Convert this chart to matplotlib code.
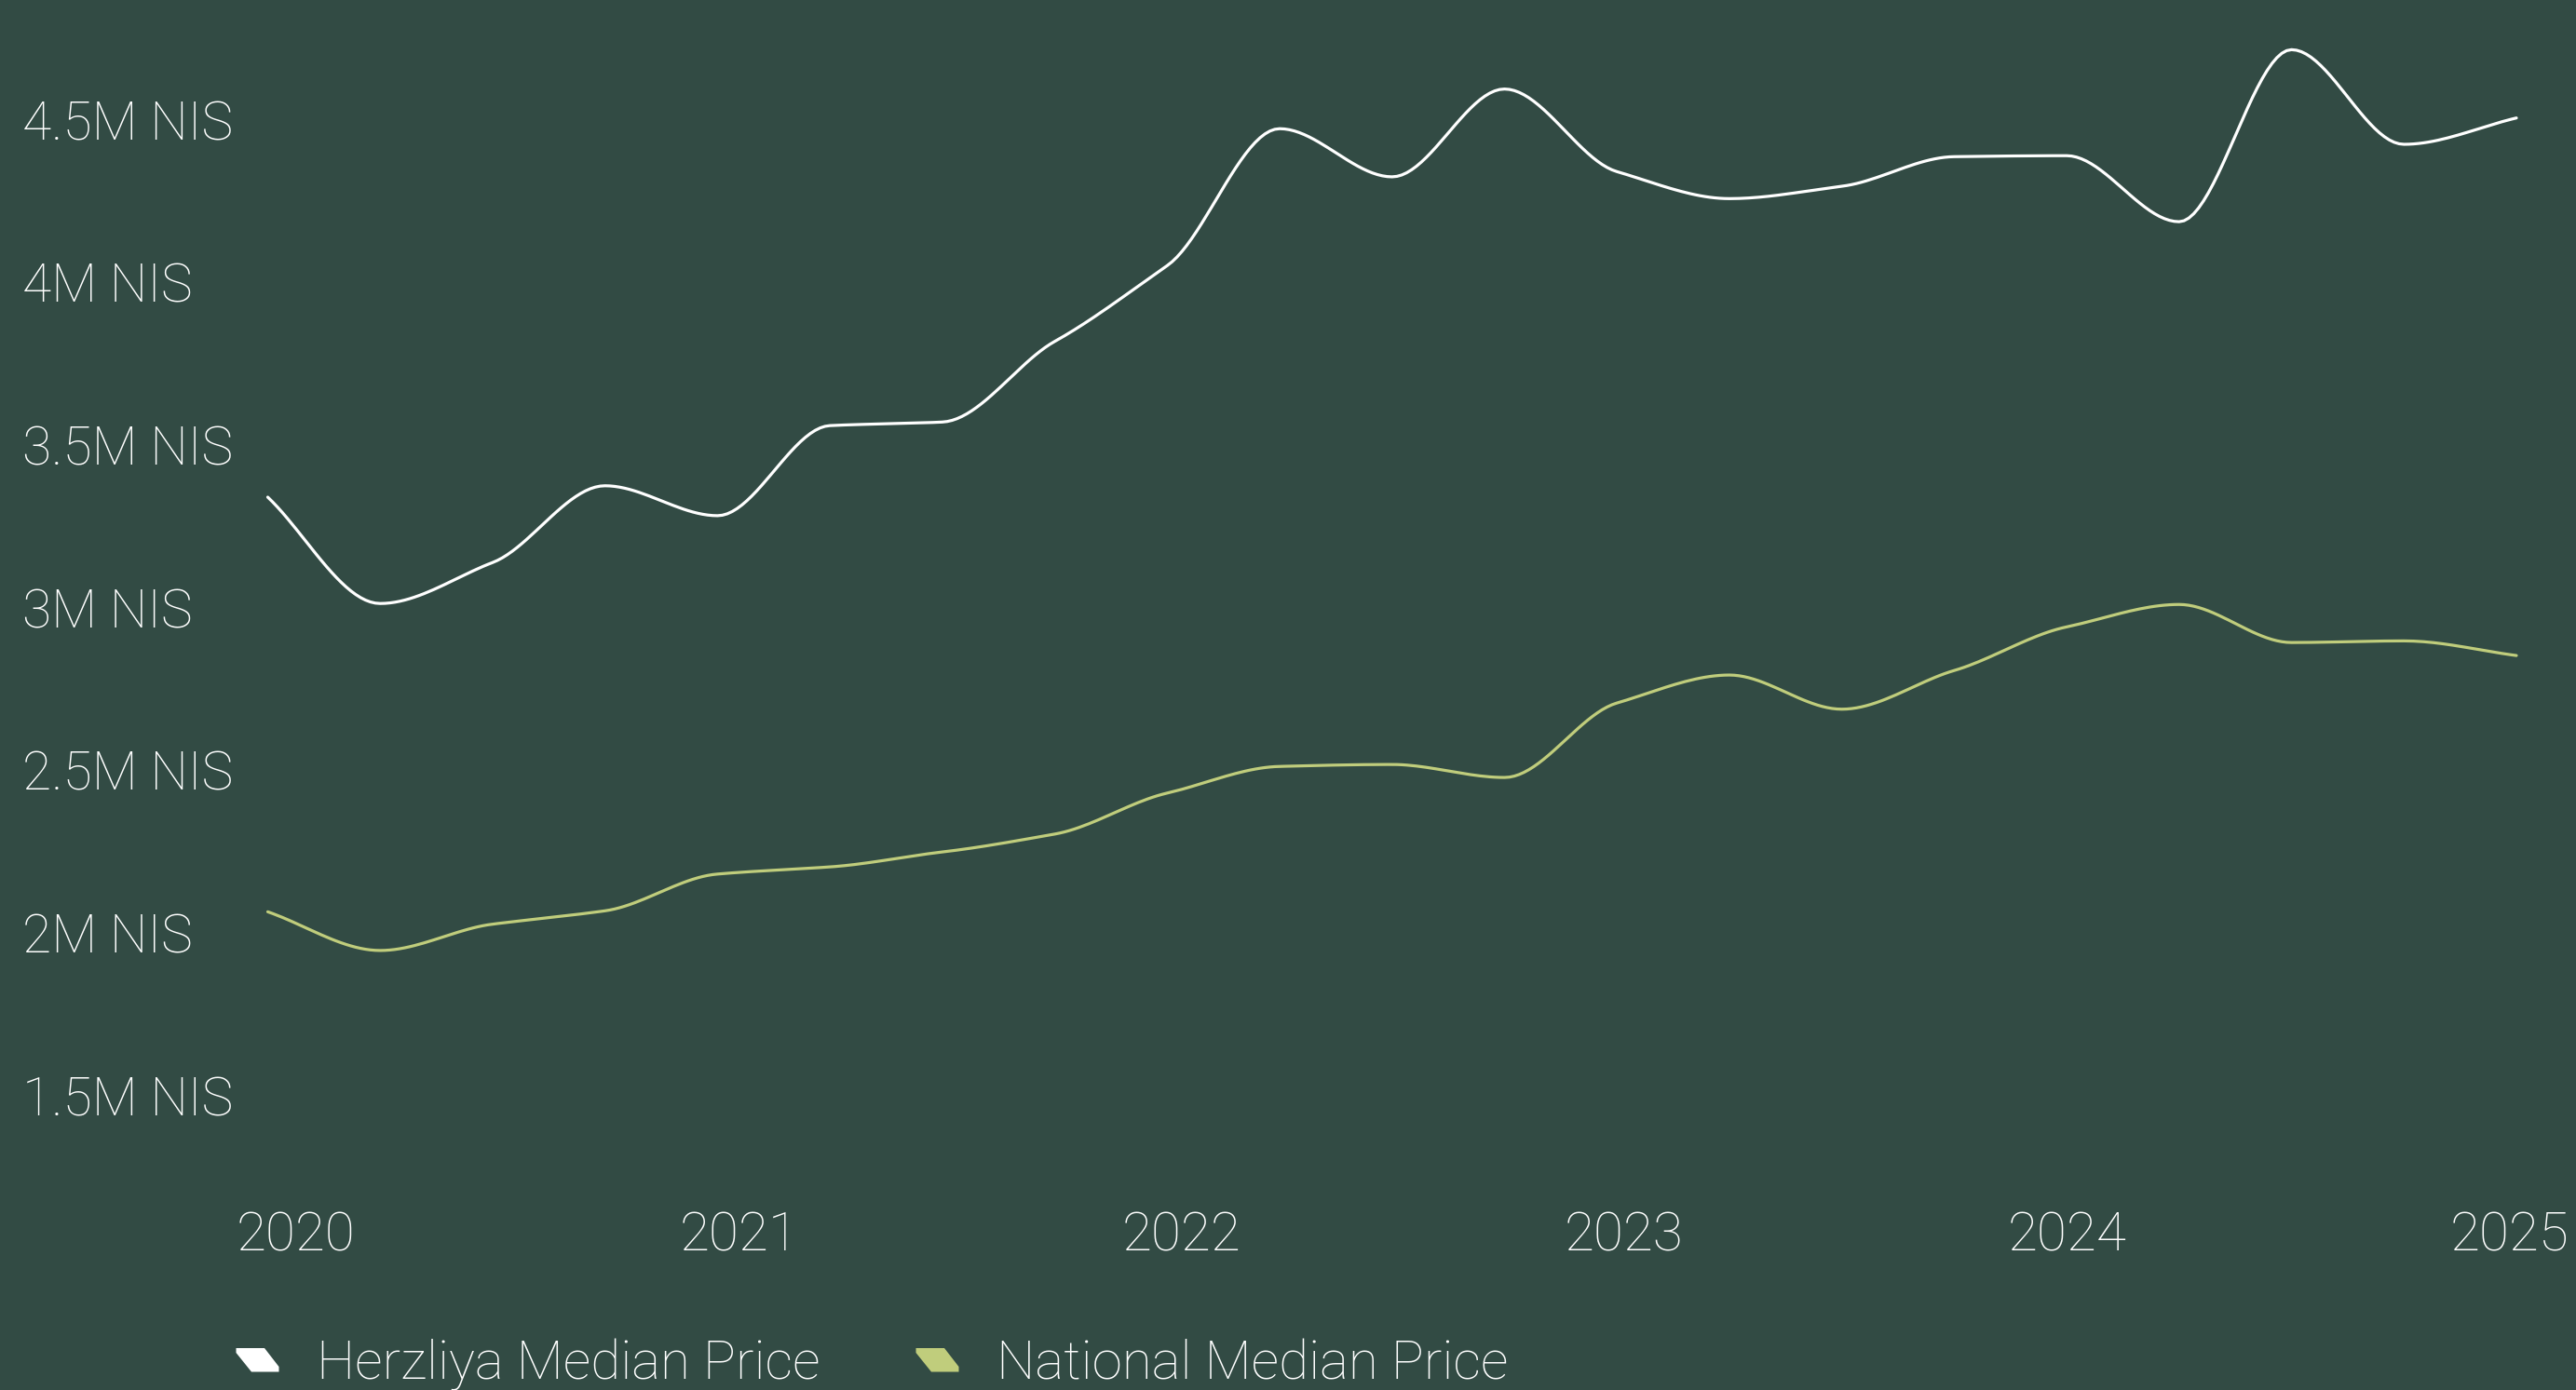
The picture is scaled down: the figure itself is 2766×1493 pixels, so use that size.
import numpy as np
import matplotlib
matplotlib.use("Agg")
import matplotlib.pyplot as plt
from matplotlib.patches import Polygon

# Quarterly median prices, millions of NIS (2020 Q1 .. 2025 Q1)
herzliya = [3.34, 3.013, 3.139, 3.375, 3.283, 3.560, 3.571, 3.819, 4.052, 4.473,
            4.325, 4.595, 4.341, 4.258, 4.296, 4.387, 4.390, 4.187, 4.716, 4.425, 4.506]
national = [2.065, 1.946, 2.027, 2.068, 2.181, 2.203, 2.249, 2.304, 2.430, 2.512,
            2.518, 2.478, 2.707, 2.793, 2.688, 2.807, 2.941, 3.010, 2.893, 2.898, 2.853]

y_ticks = [1.5, 2, 2.5, 3, 3.5, 4, 4.5]
y_labels = ["1.5M NIS", "2M NIS", "2.5M NIS", "3M NIS", "3.5M NIS", "4M NIS", "4.5M NIS"]
years = ["2020", "2021", "2022", "2023", "2024", "2025"]
series_names = ["Herzliya Median Price", "National Median Price"]

BG = "#324b44"
WHITE = "#ffffff"
LIME = "#c0cd7c"
FONT = "Roboto"
WEIGHT = "light"

W, H = 2766, 1493


def monotone_curve(y, n=24, tension=0.8):
    """Monotone cubic path through the points (tangents slightly reduced)."""
    y = np.asarray(y, float)
    x = np.arange(len(y), dtype=float)
    d = np.diff(y)
    m = np.zeros_like(y)
    with np.errstate(divide="ignore", invalid="ignore"):
        inner = np.where(d[:-1] * d[1:] > 0, 2 * d[:-1] * d[1:] / (d[:-1] + d[1:]), 0.0)
    m[1:-1] = inner * tension
    m[0], m[-1] = d[0], d[-1]
    t = np.linspace(0, 1, n)
    h00 = 2 * t**3 - 3 * t**2 + 1
    h10 = t**3 - 2 * t**2 + t
    h01 = -2 * t**3 + 3 * t**2
    h11 = t**3 - t**2
    xs, ys = [], []
    for i in range(len(y) - 1):
        xs.append(x[i] + t)
        ys.append(h00 * y[i] + h10 * m[i] + h01 * y[i + 1] + h11 * m[i + 1])
    return np.concatenate(xs), np.concatenate(ys)


fig = plt.figure(figsize=(W / 100, H / 100), dpi=100, facecolor=BG)

# axes placed so that x=0..20 spans the drawn lines
left_px, right_px = 287.5, 2702
top_px, bottom_px = 20, 1250
ax = fig.add_axes([left_px / W, 1 - bottom_px / H, (right_px - left_px) / W, (bottom_px - top_px) / H])
ax.set_facecolor(BG)
ax.set_xlim(0, len(herzliya) - 1)
ax.set_ylim(4.5 - (bottom_px - 128.8) / 349.3, 4.5 + (128.8 - top_px) / 349.3)
for s in ax.spines.values():
    s.set_visible(False)

hx, hy = monotone_curve(herzliya)
nx, ny = monotone_curve(national)
ax.plot(hx, hy, color=WHITE, lw=2.3, solid_capstyle="round", solid_joinstyle="round", clip_on=False)
ax.plot(nx, ny, color=LIME, lw=2.3, solid_capstyle="round", solid_joinstyle="round", clip_on=False)

# y tick labels, left aligned at the figure edge
ax.set_yticks(y_ticks)
ax.set_yticklabels(y_labels, fontfamily=FONT, fontweight=WEIGHT, fontsize=41, color=WHITE)
ax.tick_params(axis="y", length=0, pad=(left_px - 24) * 0.72)
for lbl in ax.get_yticklabels():
    lbl.set_horizontalalignment("left")

# x tick labels (years)
year_pos = [0.25 + 3.938 * k for k in range(len(years))]
ax.set_xticks(year_pos)
ax.set_xticklabels(years, fontfamily=FONT, fontweight=WEIGHT, fontsize=42, color=WHITE)
ax.tick_params(axis="x", length=0, pad=36)

# legend drawn by hand at the bottom
marker = [(253.5, 1448), (284, 1448), (299.5, 1468), (299.5, 1473.5), (270, 1473.5), (253.5, 1453)]
entries = [(0, WHITE, 340), (730, LIME, 1070)]
for name, (dx, col, tx) in zip(series_names, entries):
    pts = [((px + dx) / W, 1 - py / H) for px, py in marker]
    fig.patches.append(Polygon(pts, closed=True, facecolor=col, edgecolor="none",
                               transform=fig.transFigure, figure=fig))
    fig.text(tx / W, 1 - 1481 / H, name, fontfamily=FONT, fontweight=WEIGHT, fontsize=42,
             color=WHITE, ha="left", va="baseline")

fig.savefig("out.png", dpi=100, facecolor=BG)
